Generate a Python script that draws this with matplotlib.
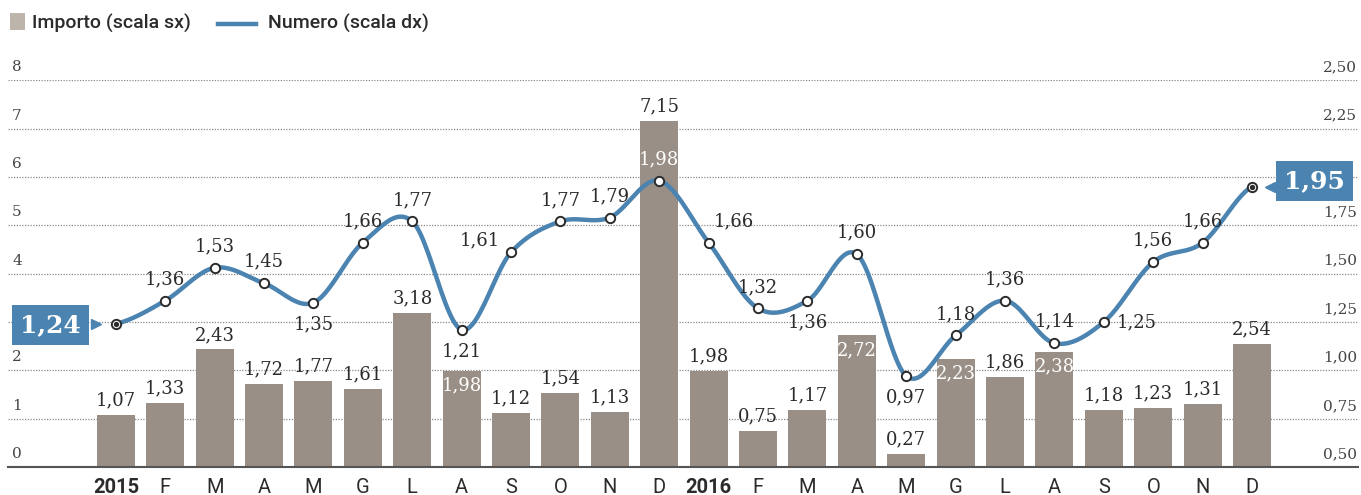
import numpy as np
import matplotlib.pyplot as plt
from matplotlib.patches import Rectangle
from matplotlib.lines import Line2D
from matplotlib.transforms import blended_transform_factory

# Importo (scala sx) e Numero (scala dx), gen 2015 - dic 2016
months = ['2015', 'F', 'M', 'A', 'M', 'G', 'L', 'A', 'S', 'O', 'N', 'D',
          '2016', 'F', 'M', 'A', 'M', 'G', 'L', 'A', 'S', 'O', 'N', 'D']
importo = [1.07, 1.33, 2.43, 1.72, 1.77, 1.61, 3.18, 1.98, 1.12, 1.54, 1.13, 7.15,
           1.98, 0.75, 1.17, 2.72, 0.27, 2.23, 1.86, 2.38, 1.18, 1.23, 1.31, 2.54]
numero = [1.24, 1.36, 1.53, 1.45, 1.35, 1.66, 1.77, 1.21, 1.61, 1.77, 1.79, 1.98,
          1.66, 1.32, 1.36, 1.60, 0.97, 1.18, 1.36, 1.14, 1.25, 1.56, 1.66, 1.95]
# where each line label sits: a=above, b=below, l=left, r=right, w=white above, n=none (box)
num_pos = ['n', 'a', 'a', 'a', 'b', 'a', 'a', 'b', 'l', 'a', 'a', 'w',
           'ar', 'a', 'b', 'a', 'b', 'a', 'a', 'a', 'r', 'a', 'a', 'n']
# bar labels drawn in white inside the bar
bar_white = [7, 15, 17, 19]
left_ticks = ['0', '1', '2', '3', '4', '5', '6', '7', '8']
right_ticks = ['0,50', '0,75', '1,00', '1,25', '1,50', '1,75', '2,00', '2,25', '2,50']
# tick labels hidden behind the value boxes
hidden_left = ['3']
hidden_right = ['2,00']

BAR = '#998f86'
BLUE = '#4b83b1'
DARK = '#2b2b2b'
GRID = '#8a8a8a'
SERIF = 'DejaVu Serif'
SANS = 'Roboto'


def fmt(v):
    return f'{v:.2f}'.replace('.', ',')


def catmull(y, n=24):
    y = list(y)
    pts_x, pts_y = [], []
    for i in range(len(y) - 1):
        p0 = y[i - 1] if i > 0 else y[i]
        p1, p2 = y[i], y[i + 1]
        p3 = y[i + 2] if i + 2 < len(y) else y[i + 1]
        t = np.linspace(0, 1, n, endpoint=False)
        c = 0.5 * ((2 * p1) + (-p0 + p2) * t + (2 * p0 - 5 * p1 + 4 * p2 - p3) * t ** 2
                   + (-p0 + 3 * p1 - 3 * p2 + p3) * t ** 3)
        pts_x.extend(i + t)
        pts_y.extend(c)
    pts_x.append(len(y) - 1)
    pts_y.append(y[-1])
    return np.array(pts_x), np.array(pts_y)


fig = plt.figure(figsize=(13.61, 4.95), dpi=100)
ax = fig.add_axes([0.006, 0.0566, 0.992, 0.7814])
x = np.arange(len(months))

ax.bar(x, importo, width=0.77, color=BAR, zorder=2)
ax.set_xlim(-2.18, 25.15)
ax.set_ylim(0, 8)
for s in ['top', 'right', 'left']:
    ax.spines[s].set_visible(False)
ax.spines['bottom'].set_color('#555555')
ax.spines['bottom'].set_linewidth(1.5)
ax.set_yticks([])
ax.set_xticks(x)
ax.set_xticklabels(months, fontsize=14.5, family=SANS, color=DARK)
for lbl in ax.get_xticklabels():
    if lbl.get_text() in ('2015', '2016'):
        lbl.set_fontweight('bold')
ax.tick_params(axis='x', length=0, pad=8)

for v in range(1, len(left_ticks)):
    ax.axhline(v, color=GRID, lw=0.9, ls=(0, (1, 1.2)), zorder=1)

tr = blended_transform_factory(ax.transAxes, ax.transData)
for v, (l, r) in enumerate(zip(left_ticks, right_ticks)):
    if l not in hidden_left:
        ax.text(0.003, v + 0.12, l, transform=tr, ha='left', va='bottom',
                fontsize=11, family=SERIF, color='#444444')
    if r not in hidden_right:
        ax.text(0.999, v + 0.12, r, transform=tr, ha='right', va='bottom',
                fontsize=11, family=SERIF, color='#444444')

for i, v in enumerate(importo):
    if i in bar_white:
        ax.annotate(fmt(v), (i, v), xytext=(0, -4), textcoords='offset points',
                    ha='center', va='top', fontsize=13, family=SERIF, color='white', zorder=5)
    else:
        ax.annotate(fmt(v), (i, v), xytext=(0, 4), textcoords='offset points',
                    ha='center', va='bottom', fontsize=13, family=SERIF, color=DARK, zorder=5)

ax2 = ax.twinx()
ax2.set_ylim(0.5, 2.5)
ax2.set_yticks([])
for s in ax2.spines.values():
    s.set_visible(False)

sx, sy = catmull(numero)
ax2.plot(sx, sy, color=BLUE, lw=3.2, zorder=3, solid_capstyle='round')
ax2.scatter(x, numero, s=45, facecolor='white', edgecolor=DARK, linewidth=1.4, zorder=4)
ax2.scatter([x[0], x[-1]], [numero[0], numero[-1]], s=8, color=DARK, zorder=5)

offs = {'a': ((0, 9), 'center', 'bottom'), 'b': ((0, -9), 'center', 'top'),
        'l': ((-8, 2), 'right', 'bottom'), 'r': ((9, 0), 'left', 'center'),
        'ar': ((4, 9), 'left', 'bottom'), 'w': ((0, 9), 'center', 'bottom')}
for i, (v, p) in enumerate(zip(numero, num_pos)):
    if p == 'n':
        continue
    off, ha, va = offs[p]
    ax2.annotate(fmt(v), (i, v), xytext=off, textcoords='offset points', ha=ha, va=va,
                 fontsize=13, family=SERIF, color='white' if p == 'w' else DARK, zorder=6)

# boxes for first and last value
box = dict(boxstyle='square,pad=0.32', fc=BLUE, ec='none')
ax2.annotate(fmt(numero[0]), (-1.33, numero[0]), xytext=(0, -1), textcoords='offset points',
             ha='center', va='center', fontsize=18, family=SERIF, fontweight='bold',
             color='white', bbox=box, zorder=6)
ax2.plot([-0.4], [numero[0]], marker='>', color=BLUE, ms=7, zorder=6, clip_on=False)
ax2.annotate(fmt(numero[-1]), (24.27, numero[-1]), xytext=(0, 4), textcoords='offset points',
             ha='center', va='center', fontsize=18, family=SERIF, fontweight='bold',
             color='white', bbox=box, zorder=6)
ax2.plot([23.36], [numero[-1]], marker='<', color=BLUE, ms=7, zorder=6, clip_on=False)

# legend drawn by hand: square swatch and short line
fig.patches.append(Rectangle((10 / 1361, 1 - 30 / 495), 15 / 1361, 17 / 495,
                             transform=fig.transFigure, fc='#bdb5ac', ec='none'))
fig.text(32 / 1361, 1 - 23 / 495, 'Importo (scala sx)', ha='left', va='center',
         fontsize=14, family=SANS, fontweight='medium', color=DARK)
fig.lines.append(Line2D([218 / 1361, 256 / 1361], [1 - 24 / 495] * 2,
                        transform=fig.transFigure, color=BLUE, lw=3.2))
fig.text(268 / 1361, 1 - 23 / 495, 'Numero (scala dx)', ha='left', va='center',
         fontsize=14, family=SANS, fontweight='medium', color=DARK)

fig.savefig('out.png', dpi=100)
